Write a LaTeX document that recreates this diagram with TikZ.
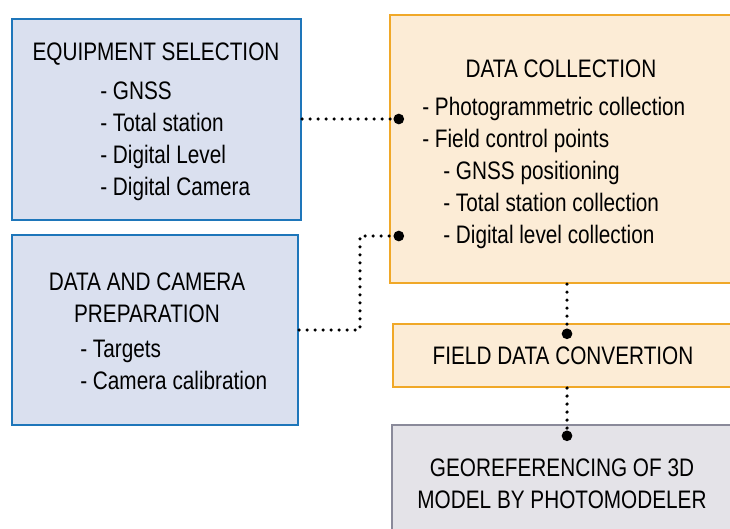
\documentclass[tikz,border=0pt]{standalone}
\usepackage{fontspec}
\setmainfont{Liberation Sans}[FakeStretch=0.82]
\usetikzlibrary{arrows.meta}

\definecolor{eqfill}{RGB}{218,224,239}
\definecolor{eqline}{RGB}{30,118,186}
\definecolor{colfill}{RGB}{252,236,214}
\definecolor{colline}{RGB}{240,168,40}
\definecolor{geofill}{RGB}{228,227,232}
\definecolor{geoline}{RGB}{138,138,154}

\begin{document}
\begin{tikzpicture}[x=0.025cm, y=-0.025cm,
    box/.style={
        draw,
        line width=1.4pt,
        inner sep=0pt
    },
    bluebox/.style={box, draw=eqline, fill=eqfill},
    orangebox/.style={box, draw=colline, fill=colfill},
    graybox/.style={box, draw=geoline, fill=geofill},
    txt/.style={
        font=\fontsize{18}{22.76}\selectfont,
        inner sep=0pt
    },
    link/.style={
        line width=2.5pt,
        line cap=round,
        dash pattern=on 0pt off 0.2cm,
        -{Circle[length=0.26cm]}
    }
]

\useasboundingbox (0,0) rectangle (730,528);

%%%%%%%%%%%%%%%%%%%%%%%%
% Left column
%%%%%%%%%%%%%%%%%%%%%%%%

% --- Equipment ---
\node[bluebox, minimum width=7.225cm, minimum height=5.025cm] (equip) at (156.5,119.5) {};
\node[txt, anchor=north] (equiptitle) at (156,43) {EQUIPMENT SELECTION};
\node[txt, anchor=north west, align=left] (equiplist) at (100,82)
    {- GNSS\\- Total station\\- Digital Level\\- Digital Camera};

% --- Preparation ---
\node[bluebox, minimum width=7.15cm, minimum height=4.75cm] (prep) at (155,330) {};
\node[txt, anchor=north, align=center] (preptitle) at (147,273)
    {DATA AND CAMERA\\PREPARATION};
\node[txt, anchor=north west, align=left] (preplist) at (80,340)
    {- Targets\\- Camera calibration};

%%%%%%%%%%%%%%%%%%%%%%%%
% Right column
%%%%%%%%%%%%%%%%%%%%%%%%

% --- Data collection ---
\node[orangebox, minimum width=9.5cm, minimum height=6.7cm] (coll) at (580,149) {};
\node[txt, anchor=north] (colltitle) at (561,60) {DATA COLLECTION};
\node[txt, anchor=north west, align=left] (colllist) at (422,97)
    {- Photogrammetric collection\\- Field control points\\
     \hspace{0.525cm}- GNSS positioning\\
     \hspace{0.525cm}- Total station collection\\
     \hspace{0.525cm}- Digital level collection};

% --- Convertion ---
\node[orangebox, minimum width=9.425cm, minimum height=1.575cm] (conv) at (581.5,355.5) {};
\node[txt] (convtext) at (563,356) {FIELD DATA CONVERTION};

% --- Georeferencing ---
\node[graybox, minimum width=9.45cm, minimum height=3cm] (geo) at (581,485) {};
\node[txt, align=center] (geotext) at (562,484)
    {GEOREFERENCING OF 3D\\MODEL BY PHOTOMODELER};

%%%%%%%%%%%%%%%%%%%%%%%%
% Links
%%%%%%%%%%%%%%%%%%%%%%%%

\coordinate (d1) at (404,119);
\coordinate (k2) at (360,236);
\coordinate (d2) at (404,236);
\coordinate (d3) at (567,339);
\coordinate (d4) at (567,441);

\draw[link] (equip.east |- d1) -- (d1);
\draw[link] (prep.east) -- (prep.east -| k2) -- (k2) -- (d2);
\draw[link] (d3 |- coll.south) -- (d3);
\draw[link] (d4 |- conv.south) -- (d4);

\end{tikzpicture}
\end{document}
